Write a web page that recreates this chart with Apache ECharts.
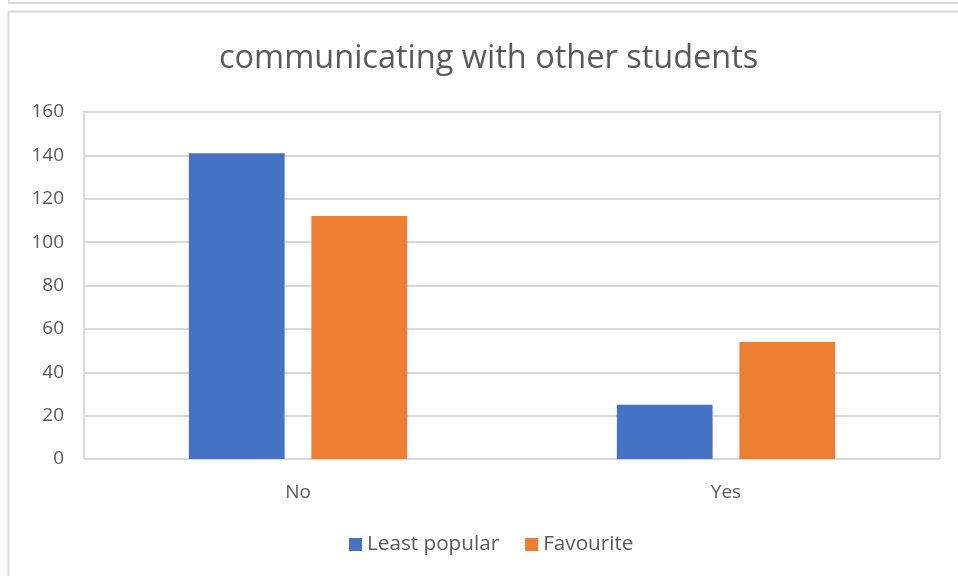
<!DOCTYPE html>
<html>
<head>
<meta charset="utf-8">
<script src="https://cdn.jsdelivr.net/npm/echarts@6/dist/echarts.min.js"></script>
<style>
  html, body { margin: 0; padding: 0; background: #ffffff; }
  #chart { width: 958px; height: 576px; }
</style>
</head>
<body>
<div id="chart"></div>
<script>
// Answer categories and counts per group
const categories = ['No', 'Yes'];
const leastPopularValues = [141, 25];
const favouriteValues = [112, 54];
const yTicks = { min: 0, max: 160, interval: 20 };

const textColor = '#595959';
const gridColor = '#d9d9d9';
const fontFamily = '"Open Sans", "Liberation Sans", sans-serif';

const chart = echarts.init(document.getElementById('chart'));
chart.setOption({
  animation: false,
  backgroundColor: '#ffffff',
  title: {
    text: 'communicating with other students',
    left: 214,
    top: 37,
    textStyle: { color: textColor, fontSize: 32.5, fontWeight: 'normal', fontFamily: fontFamily }
  },
  legend: {
    bottom: 16,
    left: 344,
    itemWidth: 13,
    itemHeight: 13,
    itemGap: 26,
    icon: 'rect',
    textStyle: { color: textColor, fontSize: 20.7, fontFamily: fontFamily },
    data: ['Least popular', 'Favourite']
  },
  grid: {
    left: 84, right: 18, top: 112, bottom: 117,
    show: true,
    borderColor: gridColor,
    borderWidth: 2,
    containLabel: false
  },
  xAxis: {
    type: 'category',
    data: categories,
    axisLine: { show: true, lineStyle: { color: gridColor, width: 2 } },
    axisTick: { show: false },
    axisLabel: { color: textColor, fontSize: 19, fontFamily: fontFamily, margin: 24 }
  },
  yAxis: {
    type: 'value',
    min: yTicks.min,
    max: yTicks.max,
    interval: yTicks.interval,
    axisLine: { show: false },
    axisTick: { show: false },
    splitLine: { lineStyle: { color: gridColor, width: 2 } },
    axisLabel: { color: textColor, fontSize: 19, fontFamily: fontFamily, margin: 20 }
  },
  series: [
    {
      name: 'Least popular',
      type: 'bar',
      data: leastPopularValues,
      itemStyle: { color: '#4472c4' },
      barGap: '28%',
      barCategoryGap: '49%'
    },
    {
      name: 'Favourite',
      type: 'bar',
      data: favouriteValues,
      itemStyle: { color: '#ed7d31' }
    }
  ],
  graphic: [
    // frame of this chart panel
    {
      type: 'rect',
      shape: { x: 8.5, y: 11.5, width: 980, height: 600 },
      style: { fill: 'none', stroke: '#d9d9d9', lineWidth: 2 },
      silent: true
    },
    // edge of the panel above
    {
      type: 'polyline',
      shape: { points: [[9, -2], [9, 3], [960, 3]] },
      style: { fill: 'none', stroke: '#d9d9d9', lineWidth: 2 },
      silent: true
    }
  ]
});
</script>
</body>
</html>
